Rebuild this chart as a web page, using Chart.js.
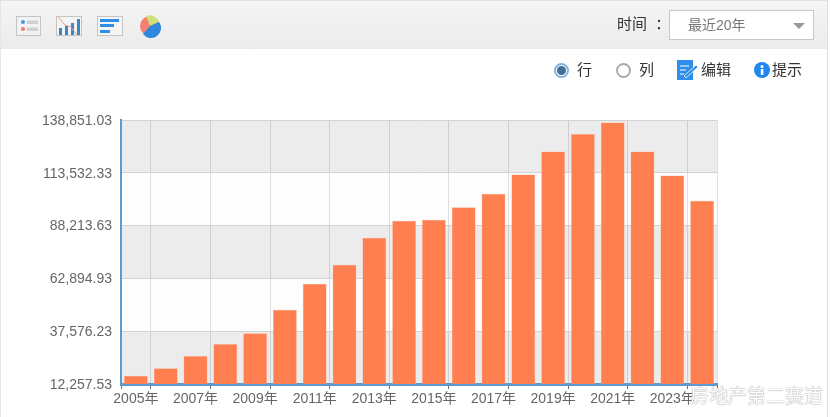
<!DOCTYPE html>
<html>
<head>
<meta charset="utf-8">
<script src="https://cdn.jsdelivr.net/npm/chart.js@4/dist/chart.umd.min.js"></script>
<style>
html, body { margin: 0; padding: 0; background: #fff; overflow: hidden; }
body { width: 831px; height: 417px; position: relative; font-family: "Liberation Sans", "Noto Sans CJK SC", sans-serif; }
canvas { position: absolute; left: 0; top: 0; filter: blur(0.5px); }
.abs { position: absolute; }
#toolbar { left: 1px; top: 1px; width: 826px; height: 48px; background: linear-gradient(#f5f5f5, #ebebeb); }
#frame { left: 0; top: 0; width: 826px; height: 417px; border-left: 1px solid #e6e6e6; border-right: 1px solid #e0e0e0; border-top: 1px solid #e2e2e2; }
.txt { font-size: 15px; color: #333; line-height: 20px; white-space: nowrap; filter: blur(0.4px); }
#select { left: 669px; top: 10px; width: 143px; height: 28px; background: #fff; border: 1px solid #c8c8c8; }
#select span { position: absolute; left: 18px; top: 4px; font-size: 14px; color: #777; line-height: 20px; filter: blur(0.4px); }
#arrow { left: 793px; top: 23px; width: 0; height: 0; border-left: 6px solid transparent; border-right: 6px solid transparent; border-top: 6px solid #999; }
.radio { width: 11px; height: 11px; border-radius: 50%; border: 2px solid #aaa; background: #fff; }
.radio.on { border-color: #7fb2dc; }
.radio.on i { position: absolute; left: 1px; top: 1px; width: 9px; height: 9px; border-radius: 50%; background: #3f6f98; }
#mark { left: 690px; top: 385px; font-size: 19px; line-height: 24px; color: #fff; white-space: nowrap;
  text-shadow: 0 0 1px #999, 0 0 1px #999; }
</style>
</head>
<body>
<div class="abs" id="frame"></div>
<div class="abs" id="toolbar"></div>

<svg class="abs" style="left:15px;top:15px;filter:blur(0.4px)" width="150" height="24" viewBox="0 0 150 24">
  <rect x="1.5" y="1.5" width="24" height="19" fill="#f2f2f2" stroke="#c4c4c4"/>
  <circle cx="8" cy="7" r="2" fill="#3d9be9"/><rect x="12" y="5.5" width="11" height="3.5" fill="#d0d0d0"/>
  <circle cx="8" cy="14" r="2" fill="#f07d6c"/><rect x="12" y="12.5" width="11" height="3.5" fill="#d0d0d0"/>
  <rect x="41.5" y="1.5" width="25" height="19" fill="#f4f4f4" stroke="#c4c4c4"/>
  <rect x="44" y="13" width="3" height="7" fill="#3a87c8"/><rect x="50" y="11" width="3" height="9" fill="#3a87c8"/>
  <rect x="56" y="8" width="3" height="12" fill="#3a87c8"/><rect x="62" y="4" width="3" height="16" fill="#3a87c8"/>
  <polyline points="43,2 50,10 56,12 62,20" fill="none" stroke="#f09a88" stroke-width="1"/>
  <rect x="82.5" y="1.5" width="25" height="19" fill="#f4f4f4" stroke="#c4c4c4"/>
  <rect x="85" y="4" width="19" height="3" fill="#2f8fe8"/><rect x="85" y="9" width="14" height="3" fill="#2f8fe8"/><rect x="85" y="15" width="10" height="3" fill="#2f8fe8"/>
  <circle cx="135" cy="11" r="10" fill="#f4806f"/>
  <path d="M135 11 L131 1 A10 10 0 0 1 144 7 Z" fill="#cfe07a"/>
  <path d="M135 11 L144 7 A10 10 0 0 1 128 19 Z" fill="#2f86dc"/>
</svg>

<div class="abs txt" style="left:617px;top:14px;word-spacing:4px">时间 ：</div>
<div class="abs" id="select"><span>最近20年</span></div>
<div class="abs" id="arrow"></div>

<div class="abs radio on" style="left:554px;top:63px"><i></i></div>
<div class="abs txt" style="left:577px;top:60px">行</div>
<div class="abs radio" style="left:616px;top:63px"></div>
<div class="abs txt" style="left:639px;top:60px">列</div>
<svg class="abs" style="left:677px;top:60px" width="21" height="20" viewBox="0 0 21 20">
  <rect x="0" y="0" width="16" height="20" fill="#2f8fe8"/>
  <path d="M3 6 H12 M3 10 H9 M3 14 H7" stroke="#fff" stroke-width="1.2"/>
  <path d="M7 16 L19 5 L21 7 L9 18 Z" fill="#2f8fe8" stroke="#fff" stroke-width="0.8"/>
</svg>
<div class="abs txt" style="left:701px;top:60px">编辑</div>
<svg class="abs" style="left:754px;top:62px" width="16" height="16" viewBox="0 0 16 16">
  <circle cx="8" cy="8" r="8" fill="#1e88f0"/>
  <rect x="6.8" y="7" width="2.6" height="6" fill="#fff"/><circle cx="8" cy="4.5" r="1.5" fill="#fff"/>
</svg>
<div class="abs txt" style="left:772px;top:60px">提示</div>

<canvas id="chart" width="831" height="417"></canvas>
<div class="abs" id="mark">房地产第二赛道</div>

<script>
const years = ["2005年","2006年","2007年","2008年","2009年","2010年","2011年","2012年","2013年","2014年",
    "2015年","2016年","2017年","2018年","2019年","2020年","2021年","2022年","2023年","2024年"];
const values = [16245, 19800, 25709, 31473, 36614, 47807, 60297, 69425, 82396, 90562,
    91043, 97048, 103533, 112661, 123710, 132117, 137642, 123710, 112181, 100170];
const yTickValues = [12257.53, 37576.23, 62894.93, 88213.63, 113532.33, 138851.03];

const axisBlue = "#5b9bd0";
const labelFont = { family: '"Liberation Sans", "Noto Sans CJK SC", sans-serif', size: 14 };

// alternating bands behind the grid, top one is grey
const bandPlugin = {
    id: "bands",
    beforeDraw(chart) {
        const { ctx, chartArea, scales } = chart;
        for (var i = 0; i < yTickValues.length - 1; i++) {
            const bottom = scales.y.getPixelForValue(yTickValues[i]);
            const top = scales.y.getPixelForValue(yTickValues[i + 1]);
            ctx.fillStyle = i % 2 == 0 ? "#ececec" : "#fdfdfd";
            ctx.fillRect(chartArea.left, top, chartArea.right - chartArea.left, bottom - top);
        }
    }
};

new Chart(document.getElementById("chart"), {
    type: "bar",
    data: {
        labels: years,
        datasets: [{
            data: values,
            backgroundColor: "#ff7f50",
            borderColor: "#ffb79c",
            borderWidth: 0.5,
            barPercentage: 0.8,
            categoryPercentage: 1
        }]
    },
    plugins: [bandPlugin],
    options: {
        responsive: false,
        animation: false,
        layout: { padding: { top: 120, right: 114, left: 0, bottom: 0 } },
        plugins: { legend: { display: false }, tooltip: { enabled: false } },
        scales: {
            x: {
                offset: true,
                afterFit: axis => { axis.height = 33; },
                border: { color: axisBlue, width: 3 },
                grid: {
                    offset: true,
                    tickLength: 5,
                    // only every other boundary has a line
                    color: ctx => ctx.index === undefined || ctx.index % 2 == 1 ? "rgba(0,0,0,0.12)" : "rgba(0,0,0,0)",
                    tickColor: ctx => ctx.index === undefined || ctx.index % 2 == 1 || ctx.index == 0 ? "#5f7183" : "rgba(0,0,0,0)"
                },
                ticks: {
                    autoSkip: false,
                    maxRotation: 0,
                    padding: 2,
                    color: "#666",
                    font: labelFont,
                    callback: function(val, i) { return i % 2 == 0 ? years[i] : ""; }
                }
            },
            y: {
                min: yTickValues[0],
                max: yTickValues[yTickValues.length - 1],
                afterBuildTicks: axis => { axis.ticks = yTickValues.map(v => ({ value: v })); },
                afterFit: axis => { axis.width = 121; },
                border: { color: axisBlue, width: 2 },
                grid: { color: "#d3d3d3", tickLength: 0 },
                ticks: {
                    padding: 9,
                    labelOffset: 1,
                    color: "#666",
                    font: labelFont,
                    callback: v => v.toLocaleString("en-US", { minimumFractionDigits: 2, maximumFractionDigits: 2 })
                }
            }
        }
    }
});
</script>
</body>
</html>
